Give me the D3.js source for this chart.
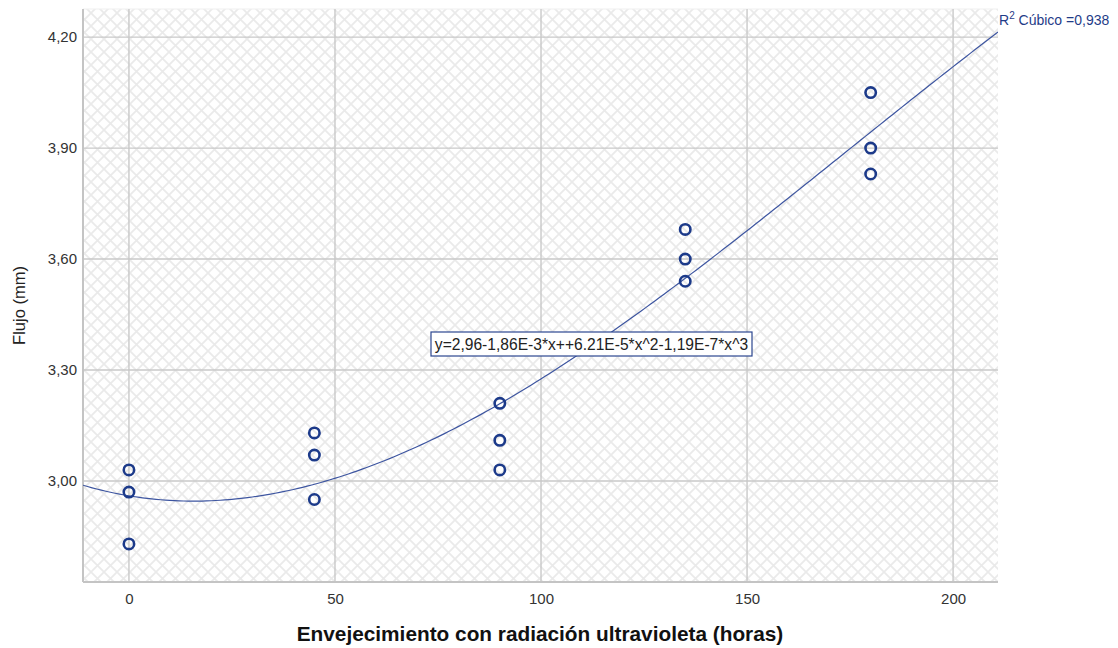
<!DOCTYPE html>
<html>
<head>
<meta charset="utf-8">
<script src="https://cdn.jsdelivr.net/npm/d3@7"></script>
<style>
  html, body { margin: 0; padding: 0; background: #fff; }
  svg { display: block; font-family: Arial, "Liberation Sans", sans-serif; }
</style>
</head>
<body>
<svg id="chart" width="1118" height="648"></svg>
<script>
// Observations: aging hours (x) and measured flow (y)
const hours = [0, 0, 0, 45, 45, 45, 90, 90, 90, 135, 135, 135, 180, 180, 180];
const flow  = [3.03, 2.97, 2.83, 3.13, 3.07, 2.95, 3.21, 3.11, 3.03, 3.68, 3.60, 3.54, 4.05, 3.90, 3.83];

// Cubic fit coefficients: y = b0 + b1*x + b2*x^2 + b3*x^3
const coeffs = [2.96, -1.86e-3, 6.21e-5, -1.19e-7];
const fitLabel = "y=2,96-1,86E-3*x++6.21E-5*x^2-1,19E-7*x^3";
const r2Label = "0,938";

const xTicks = [0, 50, 100, 150, 200];
const yTicks = [3.00, 3.30, 3.60, 3.90, 4.20];

const xTitle = "Envejecimiento con radiación ultravioleta (horas)";
const yTitle = "Flujo (mm)";

const svg = d3.select("#chart");
const plot = { left: 83, right: 998, top: 9, bottom: 582 };

const x = d3.scaleLinear().domain([-11.15, 210.9]).range([plot.left, plot.right]);
const y = d3.scaleLinear().domain([2.727, 4.276]).range([plot.bottom, plot.top]);

// Crosshatch background pattern
const defs = svg.append("defs");
const pat = defs.append("pattern")
  .attr("id", "hatch")
  .attr("patternUnits", "userSpaceOnUse")
  .attr("width", 13).attr("height", 13);
pat.append("rect").attr("width", 13).attr("height", 13).attr("fill", "#ffffff");
pat.append("path").attr("d", "M0,0 L13,13 M13,0 L0,13")
  .attr("stroke", "#eaeaea").attr("stroke-width", 1.7).attr("fill", "none");

defs.append("clipPath").attr("id", "plotClip")
  .append("rect")
  .attr("x", plot.left).attr("y", plot.top)
  .attr("width", plot.right - plot.left).attr("height", plot.bottom - plot.top);

svg.append("rect")
  .attr("x", plot.left).attr("y", plot.top)
  .attr("width", plot.right - plot.left).attr("height", plot.bottom - plot.top)
  .attr("fill", "url(#hatch)");

// Faint top frame
svg.append("line").attr("x1", plot.left).attr("x2", plot.right)
  .attr("y1", plot.top).attr("y2", plot.top)
  .attr("stroke", "#efefef").attr("stroke-width", 1);

// Gridlines
const grid = svg.append("g");
grid.selectAll("line.gx").data(xTicks).join("line")
  .attr("x1", d => x(d)).attr("x2", d => x(d))
  .attr("y1", plot.top).attr("y2", plot.bottom)
  .attr("stroke", "#c9c9c9").attr("stroke-width", 1.4);
grid.selectAll("line.gy").data(yTicks).join("line")
  .attr("x1", plot.left).attr("x2", plot.right)
  .attr("y1", d => y(d)).attr("y2", d => y(d))
  .attr("stroke", "#c9c9c9").attr("stroke-width", 1.4);

// Axes lines
svg.append("line").attr("x1", plot.left).attr("x2", plot.left)
  .attr("y1", plot.top).attr("y2", plot.bottom)
  .attr("stroke", "#c4c4c4").attr("stroke-width", 2);
svg.append("line").attr("x1", plot.left).attr("x2", plot.right)
  .attr("y1", plot.bottom).attr("y2", plot.bottom)
  .attr("stroke", "#c4c4c4").attr("stroke-width", 2);

// Axis tick labels via d3 axes
const fmtY = d => d3.format(".2f")(d).replace(".", ",");
const yAxis = svg.append("g")
  .attr("transform", `translate(${plot.left},0)`)
  .call(d3.axisLeft(y).tickValues(yTicks).tickFormat(fmtY).tickSize(0).tickPadding(6));
yAxis.select(".domain").remove();
yAxis.selectAll("text").attr("font-size", 15).attr("fill", "#333")
  .attr("font-family", "Arial, 'Liberation Sans', sans-serif");

const xAxis = svg.append("g")
  .attr("transform", `translate(0,${plot.bottom})`)
  .call(d3.axisBottom(x).tickValues(xTicks).tickFormat(d3.format("d")).tickSize(0).tickPadding(11));
xAxis.select(".domain").remove();
xAxis.selectAll("text").attr("font-size", 15).attr("fill", "#333")
  .attr("font-family", "Arial, 'Liberation Sans', sans-serif");

// Axis titles
svg.append("text")
  .attr("x", 540).attr("y", 641)
  .attr("text-anchor", "middle")
  .attr("font-size", 20.8).attr("font-weight", "bold").attr("fill", "#111")
  .text(xTitle);
svg.append("text")
  .attr("transform", `translate(25,${(plot.top + plot.bottom) / 2 + 10}) rotate(-90)`)
  .attr("text-anchor", "middle")
  .attr("font-size", 16.5).attr("fill", "#222")
  .text(yTitle);

// Fitted cubic curve
const cubic = t => coeffs[0] + coeffs[1] * t + coeffs[2] * t * t + coeffs[3] * t * t * t;
const xs = d3.range(0, 201).map(i => x.domain()[0] + (x.domain()[1] - x.domain()[0]) * i / 200);
svg.append("path")
  .datum(xs)
  .attr("clip-path", "url(#plotClip)")
  .attr("fill", "none")
  .attr("stroke", "#3d55a0")
  .attr("stroke-width", 1.2)
  .attr("d", d3.line().x(d => x(d)).y(d => y(cubic(d))));

// Data points
svg.append("g").selectAll("circle")
  .data(hours.map((h, i) => [h, flow[i]]))
  .join("circle")
  .attr("cx", d => x(d[0])).attr("cy", d => y(d[1]))
  .attr("r", 5.2)
  .attr("fill", "none")
  .attr("stroke", "#1c3a8a")
  .attr("stroke-width", 2.6);

// Equation box
const eqBox = svg.append("g");
eqBox.append("rect")
  .attr("x", 431).attr("y", 332)
  .attr("width", 321).attr("height", 24)
  .attr("fill", "#fff")
  .attr("stroke", "#2c4690").attr("stroke-width", 1.2);
eqBox.append("text")
  .attr("x", 591.5).attr("y", 349.5)
  .attr("text-anchor", "middle")
  .attr("font-size", 15.6).attr("fill", "#222")
  .text(fitLabel);

// R squared annotation
const r2 = svg.append("text")
  .attr("x", 999).attr("y", 25)
  .attr("font-size", 14).attr("fill", "#1f3c88");
r2.append("tspan").text("R");
r2.append("tspan").attr("dy", -6).attr("font-size", 10).text("2");
r2.append("tspan").attr("dy", 6).text(" Cúbico =" + r2Label);
</script>
</body>
</html>
